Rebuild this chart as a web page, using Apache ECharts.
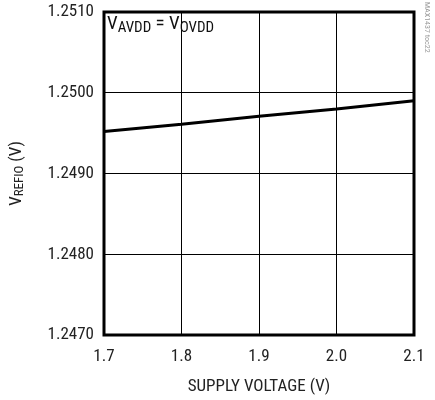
<!DOCTYPE html>
<html><head><meta charset="utf-8">
<script src="https://cdn.jsdelivr.net/npm/echarts@6/dist/echarts.min.js"></script>
<style>html,body{margin:0;padding:0;background:#fff}#c{width:435px;height:400px}</style>
</head><body><div id="c"></div>
<script>
const xValues = [1.7, 1.8, 1.9, 2.0, 2.1];
const vrefio = [1.24952, 1.24961, 1.24971, 1.24980, 1.24990];
const yTicks = ['1.2470', '1.2480', '1.2490', '1.2500', '1.2510'];
const FONT = '"Liberation Sans Narrow", "Roboto Condensed", "Liberation Sans", sans-serif';

const chart = echarts.init(document.getElementById('c'));
chart.setOption({
  animation: false,
  backgroundColor: '#fff',
  grid: { left: 99, right: 21, top: 12, bottom: 64, show: true, borderColor: '#000', borderWidth: 3, backgroundColor: 'transparent' },
  graphic: [
    { type: 'text', left: 107, top: 15, z: 10, style: { text: '{n|V}{s|AVDD}{n| = V}{s|OVDD}', rich: {
      n: { fontFamily: FONT, fontSize: 19, fill: '#111' },
      s: { fontFamily: FONT, fontSize: 15, fill: '#111', verticalAlign: 'bottom', padding: [7, 0, 0, 0] } } } },
    { type: 'text', left: 423, top: 2, rotation: -Math.PI / 2, z: 10, style: { text: 'MAX1437 toc22', fontFamily: FONT, fontSize: 8, fill: '#999' } }
  ],
  xAxis: {
    type: 'value', min: 1.7, max: 2.1, interval: 0.1,
    name: 'SUPPLY VOLTAGE (V)', nameLocation: 'middle', nameGap: 43,
    nameTextStyle: { fontFamily: FONT, fontSize: 17, color: '#222' },
    axisLine: { show: false }, axisTick: { show: false },
    axisLabel: { fontFamily: FONT, fontSize: 17, color: '#222', margin: 13, formatter: v => v.toFixed(1) },
    splitLine: { show: true, lineStyle: { color: '#000', width: 1 } }
  },
  yAxis: {
    type: 'value', min: 1.247, max: 1.251, interval: 0.001,
    name: '{n|V}{s|REFIO}{n| (V)}', nameLocation: 'middle', nameGap: 78,
    nameTextStyle: { rich: {
      n: { fontFamily: FONT, fontSize: 17, color: '#222' },
      s: { fontFamily: FONT, fontSize: 13, color: '#222', verticalAlign: 'bottom', padding: [6, 0, 0, 0] } } },
    axisLine: { show: false }, axisTick: { show: false },
    axisLabel: { fontFamily: FONT, fontSize: 17, color: '#222', margin: 10,
      formatter: v => yTicks[Math.round((v - 1.247) / 0.001)] },
    splitLine: { show: true, lineStyle: { color: '#000', width: 1 } }
  },
  series: [{
    type: 'line', data: xValues.map((x, i) => [x, vrefio[i]]),
    symbol: 'none', lineStyle: { color: '#000', width: 3 }
  }]
});
</script></body></html>
